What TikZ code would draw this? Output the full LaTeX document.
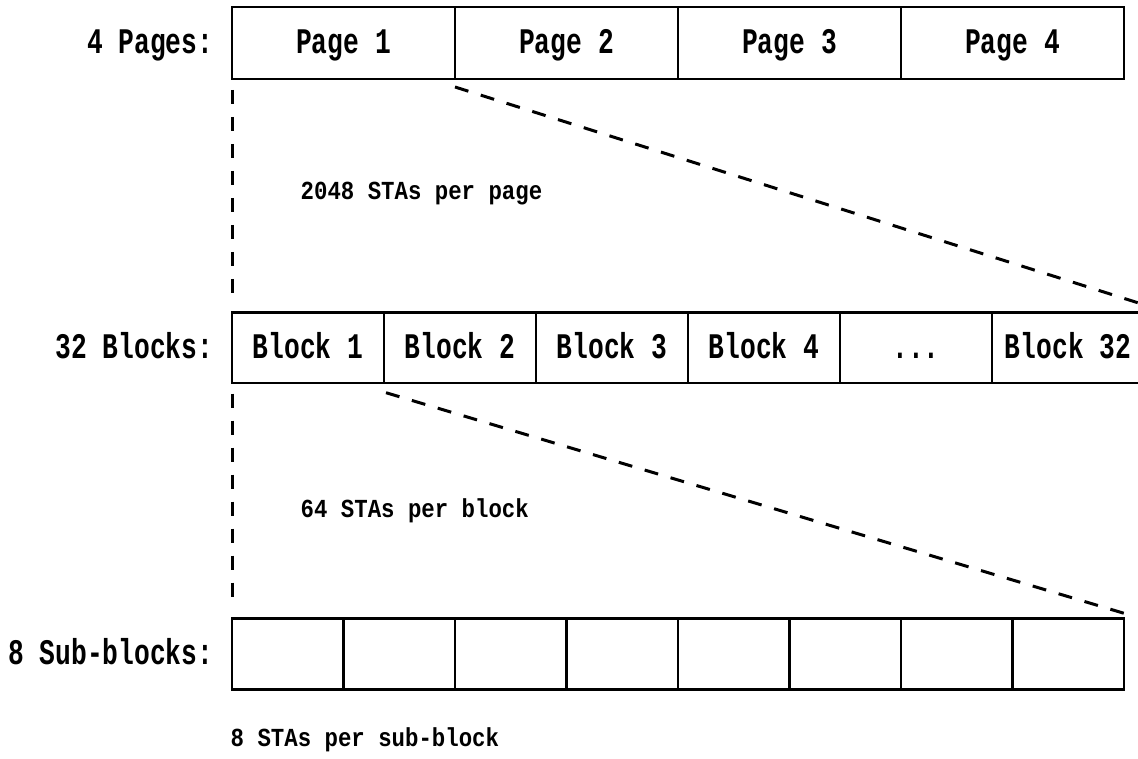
\documentclass[tikz,border=0pt]{standalone}
\usepackage{fontspec}
\newfontfamily\labelfont[FakeStretch=0.73]{Liberation Mono}
\newfontfamily\notefont[FakeStretch=0.86]{Liberation Mono}
\usetikzlibrary{calc}
\newcommand\moreblocks{...}

\begin{document}
\begin{tikzpicture}[x=1pt,y=-1pt,
  bigtext/.style={font={\labelfont\bfseries\fontsize{36}{40}\selectfont}},
  cell/.style={draw, line width=2.4pt, outer sep=0pt, inner sep=0pt,
    anchor=north west, minimum width=#1, text height=21pt, text depth=0pt,
    bigtext},
  rowlabel/.style={inner sep=0pt, anchor=base east, bigtext},
  note/.style={inner sep=0pt, anchor=base west,
    font={\notefont\bfseries\fontsize{26}{30}\selectfont}},
  guide/.style={line width=3pt, dash pattern=on 14pt off 13pt}]

\useasboundingbox (0,0) rectangle (1138,759);

% row of pages
\foreach \t [count=\i] in {Page 1,Page 2,Page 3,Page 4}
  \node[cell=223pt, minimum height=72pt] (p\i) at ({232+(\i-1)*223},7) {\t};

% row of blocks
\foreach \t [count=\i] in {Block 1,Block 2,Block 3,Block 4,\moreblocks,Block 32}
  \node[cell=152pt, minimum height=70pt] (b\i) at ({232+(\i-1)*152},312.7) {\t};

% row of sub-blocks
\foreach \i in {1,...,8}
  \node[cell=111.5pt, minimum height=71pt] (s\i) at ({232+(\i-1)*111.5},618.3) {};

% row labels
\node[rowlabel] (lp) at (213.5,53.3) {4 Pages:};
\node[rowlabel] (lb) at (213.5,358.5) {32 Blocks:};
\node[rowlabel] (ls) at (213.5,664) {8 Sub-blocks:};

% zoom guides
\draw[guide] ([yshift=-11pt]p1.south west) -- ([yshift=12pt]b1.north west);
\draw[guide] ([yshift=-8pt]p1.south east) -- ([yshift=8pt]b6.north east);
\draw[guide] ([yshift=-11pt]b1.south west) -- ([yshift=12pt]s1.north west);
\draw[guide] ([xshift=2pt,yshift=-10pt]b1.south east) -- ([yshift=5pt]s8.north east);

% notes
\node[note] (n1) at (300.5,199.3) {2048 STAs per page};
\node[note] (n2) at (300.5,517) {64 STAs per block};
\node[note] (n3) at (230.5,746.7) {8 STAs per sub-block};
\end{tikzpicture}
\end{document}
